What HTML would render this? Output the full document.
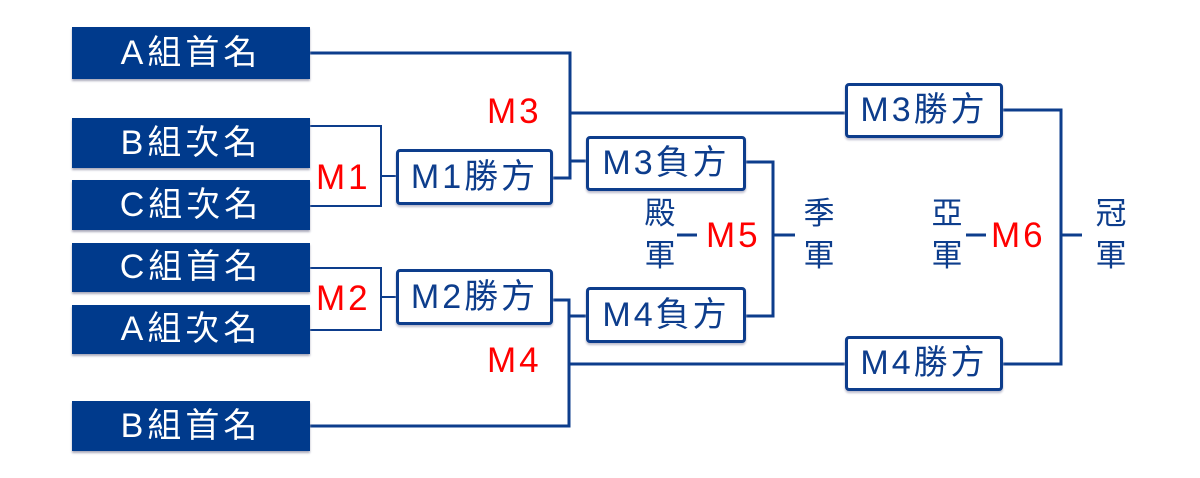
<!DOCTYPE html>
<html><head><meta charset="utf-8"><style>
body{margin:0;width:1200px;height:478px;background:#fff;position:relative;overflow:hidden;font-family:"Liberation Sans","Noto Sans CJK TC",sans-serif}
.d{position:absolute;left:72px;width:238px;background:#003a8c;color:#fff;font-size:34px;letter-spacing:4px;text-align:center;box-shadow:0 2px 2px #aab}
.w{position:absolute;border:3px solid #0d3d8c;border-radius:4px;background:#fff;color:#0d3d8c;font-size:34px;text-align:center;box-sizing:border-box;box-shadow:0 2px 2px #bbc;letter-spacing:3px}
.r{position:absolute;color:#f00;font-size:35px;letter-spacing:3px}
.t{position:absolute;color:#0d3d8c;font-size:31px;line-height:42px;width:44px;text-align:center}
svg{position:absolute;left:0;top:0}
</style></head><body>
<svg width="1200" height="478" stroke="#0d3d8c" stroke-width="3" fill="none">
<path d="M310 53H570V178H553M570 113H845M570 161H587"/>
<path d="M310 126H381V206H310M381 176H397" stroke-width="2"/>
<path d="M310 268H381V330H310M381 297H397" stroke-width="2"/>
<path d="M553 300H569V426H310M569 316H587M569 364H845"/>
<path d="M746 162H773V316H746M773 235H795M677 235H697"/>
<path d="M1003 110H1061V364H1003M1061 235H1082M966 235H986"/>
</svg>
<div class="d" style="top:27px;height:52px;line-height:52px">A組首名</div>
<div class="d" style="top:118px;height:50px;line-height:50px">B組次名</div>
<div class="d" style="top:180px;height:50px;line-height:50px">C組次名</div>
<div class="d" style="top:243px;height:49px;line-height:49px">C組首名</div>
<div class="d" style="top:305px;height:49px;line-height:49px">A組次名</div>
<div class="d" style="top:401px;height:50px;line-height:50px">B組首名</div>
<div class="w" style="left:396px;top:149px;width:157px;height:56px;line-height:50px">M1勝方</div>
<div class="w" style="left:396px;top:269px;width:157px;height:56px;line-height:50px">M2勝方</div>
<div class="w" style="left:586px;top:136px;width:160px;height:55px;line-height:49px">M3負方</div>
<div class="w" style="left:586px;top:287px;width:160px;height:56px;line-height:50px">M4負方</div>
<div class="w" style="left:845px;top:83px;width:158px;height:55px;line-height:49px">M3勝方</div>
<div class="w" style="left:845px;top:336px;width:158px;height:55px;line-height:49px">M4勝方</div>
<div class="r" style="left:316px;top:158px">M1</div>
<div class="r" style="left:316px;top:279px">M2</div>
<div class="r" style="left:487px;top:92px">M3</div>
<div class="r" style="left:487px;top:341px">M4</div>
<div class="r" style="left:706px;top:216px">M5</div>
<div class="r" style="left:991px;top:216px">M6</div>
<div class="t" style="left:638px;top:193px">殿<br>軍</div>
<div class="t" style="left:797px;top:193px">季<br>軍</div>
<div class="t" style="left:925px;top:193px">亞<br>軍</div>
<div class="t" style="left:1089px;top:193px">冠<br>軍</div>
</body></html>
